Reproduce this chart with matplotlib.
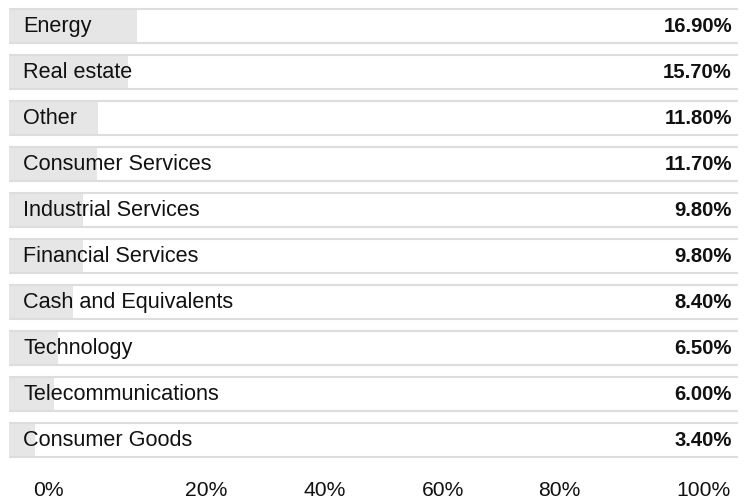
import matplotlib.pyplot as plt

# дані
sectors = ["Energy", "Real estate", "Other", "Consumer Services", "Industrial Services",
           "Financial Services", "Cash and Equivalents", "Technology",
           "Telecommunications", "Consumer Goods"]
weights = [16.9, 15.7, 11.8, 11.7, 9.8, 9.8, 8.4, 6.5, 6.0, 3.4]
tick_labels = ["0%", "20%", "40%", "60%", "80%", "100%"]

W, H = 746, 502
plt.rcParams['font.family'] = ['Liberation Sans', 'DejaVu Sans']
fig = plt.figure(figsize=(W / 100, H / 100), dpi=100)

# осі під рядки: від 9 до 738 px, крок рядка 46 px
ax = fig.add_axes([9 / W, 1 - 464 / H, 729 / W, 460 / H])
xmax = 96.4  # ширина рядка в % (100% довше за рядок)
ax.set_xlim(0, xmax)
ax.set_ylim(len(sectors) - 0.5, -0.5)
ax.axis('off')

row_h = 0.76
ys = range(len(sectors))
ax.barh(ys, weights, height=row_h, color='#e6e6e6', edgecolor='none', zorder=1)
for y in ys:
    ax.hlines([y - row_h / 2, y + row_h / 2], 0, xmax, color='#dddddd', linewidth=1.5, zorder=2)

for y, name, v in zip(ys, sectors, weights):
    ax.text(14 / 729 * xmax, y, name, ha='left', va='center', fontsize=15.6, color='#111111', zorder=3)
    ax.text(723 / 729 * xmax, y, f"{v:.2f}%", ha='right', va='center', fontsize=14.6,
            fontweight='bold', color='#111111', zorder=3)

# підписи шкали внизу
tick_px = [48, 206, 325, 443, 559, 703]
for px, lab in zip(tick_px, tick_labels):
    fig.text(px / W, 1 - 496 / H, lab, ha='center', va='baseline', fontsize=15.2, color='#111111')

fig.savefig('out.png', dpi=100)
